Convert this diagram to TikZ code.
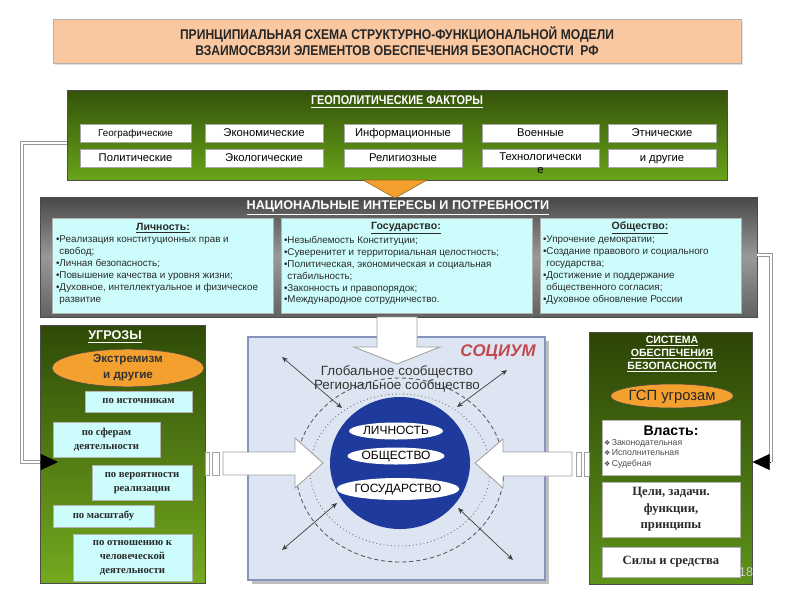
\documentclass[tikz,border=0pt]{standalone}
\usepackage{fontspec}
\setmainfont{Liberation Sans}
\newfontfamily\serifb{Liberation Serif}
\newfontfamily\narrow[FakeStretch=0.86]{Liberation Sans}
\newfontfamily\dejavu{DejaVu Sans}
\usetikzlibrary{arrows.meta,shapes.geometric,shadows}
\newlength\pxu \setlength\pxu{0.025cm}
\definecolor{peach}{HTML}{F9C8A0}
\definecolor{geotop}{HTML}{34520A}
\definecolor{geobot}{HTML}{68A419}
\definecolor{thrtop}{HTML}{2F4A07}
\definecolor{thrbot}{HTML}{74AA1F}
\definecolor{systop}{HTML}{2C4406}
\definecolor{sysbot}{HTML}{5E941A}
\definecolor{cyanbox}{HTML}{CCFCFC}
\definecolor{orng}{HTML}{F3A02E}
\definecolor{bluec}{HTML}{1D3A9C}
\definecolor{socbg}{HTML}{DCE5F1}
\definecolor{socbd}{HTML}{8494BC}
\definecolor{socred}{HTML}{C4474E}
\definecolor{txt}{HTML}{2A2A2A}
\newcommand\fsz[2]{\fontsize{#1}{#2}\selectfont}
\begin{document}
\begin{tikzpicture}[x=0.025cm,y=-0.025cm,
  every node/.style={inner sep=0pt,outer sep=0pt},
  fbox/.style={draw=gray!70,fill=white,minimum height=18\pxu,text height=5.8pt,text depth=1.4pt,
     drop shadow={shadow xshift=1.2\pxu,shadow yshift=-1.2\pxu,fill=black!60},
     font=\fsz{8}{9}},
  ttl/.style={text=white,font=\bfseries\fsz{9}{10}},
  cbox/.style={draw=gray!60,fill=cyanbox},
  tbox/.style={draw=gray!60,fill=cyanbox,align=center,text=txt,font=\serifb\bfseries\fsz{7.6}{10}},
  wbox/.style={draw=gray!60,fill=white,align=center},
  lst/.style={anchor=north west,align=left,text=txt,font=\fsz{7}{8.5}},
  hd/.style={text=txt,font=\bfseries\fsz{7.5}{9}},
  oval/.style={ellipse,draw=black!70,fill=orng},
  dline/.style={draw=gray!80,double=white,double distance=1.4pt,line width=0.5pt},
  tipend/.style={arrows={-Triangle[length=0.43cm,width=0.4cm]},line width=0.6pt,black},
  dblarrow/.style={arrows={Stealth[length=0.15cm,width=0.125cm]-Stealth[length=0.15cm,width=0.125cm]},draw=black!75,line width=0.5pt},
  blk/.style={draw=gray!75,fill=white,line width=0.6pt},
  wov/.style={ellipse,fill=white,font=\fsz{8.5}{10},text=black,text height=6.2pt,text depth=0.8pt}]
\useasboundingbox (0,0) rectangle (800,600);

% title
\node[draw=gray!60,fill=peach,minimum width=688\pxu,minimum height=44\pxu,align=center,
  font=\narrow\bfseries\fsz{10}{11.4},text=black!85,
  drop shadow={shadow xshift=2\pxu,shadow yshift=-2\pxu,fill=black!25}] (title) at (397,41)
  {ПРИНЦИПИАЛЬНАЯ СХЕМА СТРУКТУРНО-ФУНКЦИОНАЛЬНОЙ МОДЕЛИ\\ВЗАИМОСВЯЗИ ЭЛЕМЕНТОВ ОБЕСПЕЧЕНИЯ БЕЗОПАСНОСТИ~~РФ};

% geopolitical
\node[draw=black!70,top color=geotop,bottom color=geobot,minimum width=660\pxu,minimum height=90\pxu] (geo) at (397,135) {};
\node[ttl,font=\narrow\bfseries\fsz{9}{10}] (geot) at (397,102) {\underline{ГЕОПОЛИТИЧЕСКИЕ ФАКТОРЫ}};
\node[fbox,minimum width=111\pxu,font=\fsz{7}{8}] (f1) at (135.5,133) {Географические};
\node[fbox,minimum width=118\pxu] (f2) at (264,133) {Экономические};
\node[fbox,minimum width=118\pxu] (f3) at (403,133) {Информационные};
\node[fbox,minimum width=117\pxu] (f4) at (540.5,133) {Военные};
\node[fbox,minimum width=108\pxu] (f5) at (662,133) {Этнические};
\node[fbox,minimum width=111\pxu] (f6) at (135.5,158) {Политические};
\node[fbox,minimum width=118\pxu] (f7) at (264,158) {Экологические};
\node[fbox,minimum width=118\pxu] (f8) at (403,158) {Религиозные};
\node[fbox,minimum width=117\pxu] (f9) at (540.5,158) {};
\node[align=center,anchor=north,font=\fsz{8}{9.2}] (f9t) at (540.5,153) {Технологически\\е};
\node[fbox,minimum width=108\pxu] (f10) at (662,158) {и другие};

% national interests
\node[draw=black!70,top color=black!72,bottom color=black!62,middle color=black!40,
  minimum width=717\pxu,minimum height=120\pxu] (nat) at (398.5,257) {};
\node[ttl] (natt) at (398,208) {\underline{НАЦИОНАЛЬНЫЕ ИНТЕРЕСЫ И ПОТРЕБНОСТИ}};
\node[cbox,minimum width=221\pxu,minimum height=95\pxu] (nl) at (162.5,265.5) {};
\node[cbox,minimum width=251\pxu,minimum height=95\pxu] (ns) at (406.5,265.5) {};
\node[cbox,minimum width=201\pxu,minimum height=95\pxu] (no) at (640.5,265.5) {};
\node[hd] at (163,228) {\underline{Личность:}};
\node[hd] at (406,228) {\underline{Государство:}};
\node[hd] at (640,228) {\underline{Общество:}};
\node[lst] (nlt) at (56,236) {•Реализация конституционных прав и\\\hphantom{•}свобод;\\•Личная безопасность;\\•Повышение качества и уровня жизни;\\•Духовное, интеллектуальное и физическое\\\hphantom{•}развитие};
\node[lst] (nst) at (284,236) {•Незыблемость Конституции;\\•Суверенитет и территориальная целостность;\\•Политическая, экономическая и социальная\\\hphantom{•}стабильность;\\•Законность и правопорядок;\\•Международное сотрудничество.};
\node[lst] (not) at (543,236) {•Упрочение демократии;\\•Создание правового и социального\\\hphantom{•}государства;\\•Достижение и поддержание\\\hphantom{•}общественного согласия;\\•Духовное обновление России};

% orange triangle between geo and nat
\filldraw[fill=orng,draw=orng!60!black,line width=0.4pt] (363,180) -- (427,180) -- (395,198) -- cycle;

% threats panel
\node[draw=black!70,top color=thrtop,bottom color=thrbot,minimum width=165\pxu,minimum height=258\pxu] (thr) at (122.5,454) {};
\node[ttl] (thrt) at (115,337) {\underline{УГРОЗЫ}};
\node[oval,minimum width=152\pxu,minimum height=33\pxu,align=center,font=\bfseries\fsz{8.3}{11.4},text=black!80] (ext) at (128,368) {Экстремизм\\и другие};
\node[tbox,minimum width=107\pxu,minimum height=21\pxu] (t1) at (138.5,401.5) {по источникам};
\node[tbox,minimum width=107\pxu,minimum height=35\pxu] (t2) at (106.5,439.5) {по сферам\\деятельности};
\node[tbox,minimum width=100\pxu,minimum height=35\pxu] (t3) at (142,483) {по вероятности\\реализации};
\node[tbox,minimum width=101\pxu,minimum height=22\pxu] (t4) at (103.5,516) {по масштабу};
\node[tbox,minimum width=119\pxu,minimum height=47\pxu] (t5) at (132.5,558) {по отношению к\\человеческой\\деятельности};

% security system panel
\node[draw=black!70,top color=systop,bottom color=sysbot,minimum width=163\pxu,minimum height=252\pxu] (sys) at (671,458) {};
\node[ttl,align=center,font=\bfseries\fsz{7.5}{9.2}] (syst) at (672,354) {\underline{СИСТЕМА}\\\underline{ОБЕСПЕЧЕНИЯ}\\\underline{БЕЗОПАСНОСТИ}};
\node[oval,minimum width=109\pxu,minimum height=24\pxu,font=\fsz{10.5}{12},text=black!85,text height=7.6pt,text depth=1pt] (gsp) at (672,396) {ГСП угрозам};
\node[wbox,minimum width=138\pxu,minimum height=55\pxu] (vl) at (671,447.5) {};
\node[font=\bfseries\fsz{10}{11},text=black] at (671,431) {Власть:};
\node[anchor=north west,align=left,font=\fsz{6.2}{7.5},text=black!70] (vlt) at (604,439)
  {{\dejavu\fsz{5}{6}❖}\,Законодательная\\{\dejavu\fsz{5}{6}❖}\,Исполнительная\\{\dejavu\fsz{5}{6}❖}\,Судебная};
\node[wbox,minimum width=138\pxu,minimum height=55\pxu,font=\serifb\bfseries\fsz{9}{11.7},text=txt] (cel) at (671,509.5) {Цели, задачи.\\функции,\\принципы};
\node[wbox,minimum width=138\pxu,minimum height=30\pxu,font=\serifb\bfseries\fsz{9}{11},text=txt] (sil) at (671,562) {Силы и средства};
\node[text=black!20,font=\fsz{9}{10}] (pg) at (746,572) {18};

% socium
\fill[black!25] (252,341) rectangle (549,584);
\node[draw=socbd,fill=socbg,line width=0.8pt,minimum width=297\pxu,minimum height=243\pxu] (soc) at (396.5,458.5) {};
\node[text=socred,font=\bfseries\itshape\fsz{12}{13}] (soct) at (498,352) {СОЦИУМ};
\draw[densely dashed,draw=black!65,line width=0.6pt] (400,470) ellipse [x radius=104,y radius=92];
\draw[dotted,draw=black!60,line width=0.6pt] (400,470) ellipse [x radius=90,y radius=76];
\node[text=black!80,font=\fsz{9.5}{10}] (glob) at (397,372) {Глобальное сообщество};
\node[text=black!80,font=\fsz{9.5}{10}] (reg) at (397,386) {Региональное сообщество};
\node[ellipse,fill=bluec,minimum width=140\pxu,minimum height=132\pxu] (core) at (400,463) {};
\node[wov,minimum width=94\pxu,minimum height=17\pxu] (pers) at (396,431) {ЛИЧНОСТЬ};
\node[wov,minimum width=94\pxu,minimum height=17\pxu] (obsh) at (396,456) {ОБЩЕСТВО};
\node[wov,minimum width=102\pxu,minimum height=22\pxu] (gos) at (398,489) {ГОСУДАРСТВО};

% thin double arrows
\coordinate (a1) at (282,357); \coordinate (b1) at (342,408);
\coordinate (a2) at (507,370); \coordinate (b2) at (457,407);
\coordinate (a3) at (282,550); \coordinate (b3) at (337,503);
\coordinate (a4) at (513,560); \coordinate (b4) at (458,508);
\draw[dblarrow] (a1) -- (b1);
\draw[dblarrow] (a2) -- (b2);
\draw[dblarrow] (a3) -- (b3);
\draw[dblarrow] (a4) -- (b4);

% block arrows
\draw[blk] (377,317) -- (417,317) -- (417,347) -- (440,347) -- (397,364) -- (354,347) -- (377,347) -- cycle;
\draw[blk] (205,452) rectangle (209,475);
\draw[blk] (212,452) rectangle (219,475);
\draw[blk] (223,452) -- (295,452) -- (295,438) -- (323,463) -- (295,488) -- (295,475) -- (223,475) -- cycle;
\draw[blk] (576,452) rectangle (581,476);
\draw[blk] (584,452) rectangle (589,476);
\draw[blk] (572,452) -- (503,452) -- (503,439) -- (475,463) -- (503,488) -- (503,476) -- (572,476) -- cycle;

% connectors
\coordinate (lc1) at (22,143); \coordinate (lc2) at (22,462); \coordinate (lend) at (58,462);
\draw[dline] (geo.west |- lc1) -- (lc1) -- (lc2) -- (thr.west |- lc2);
\draw[tipend] (thr.west |- lc2) -- (lend);
\coordinate (rc1) at (771,255); \coordinate (rc2) at (771,462);
\draw[dline] (nat.east |- rc1) -- (rc1) -- (rc2);
\draw[tipend] (rc2) -- (sys.east |- rc2);
\end{tikzpicture}
\end{document}
